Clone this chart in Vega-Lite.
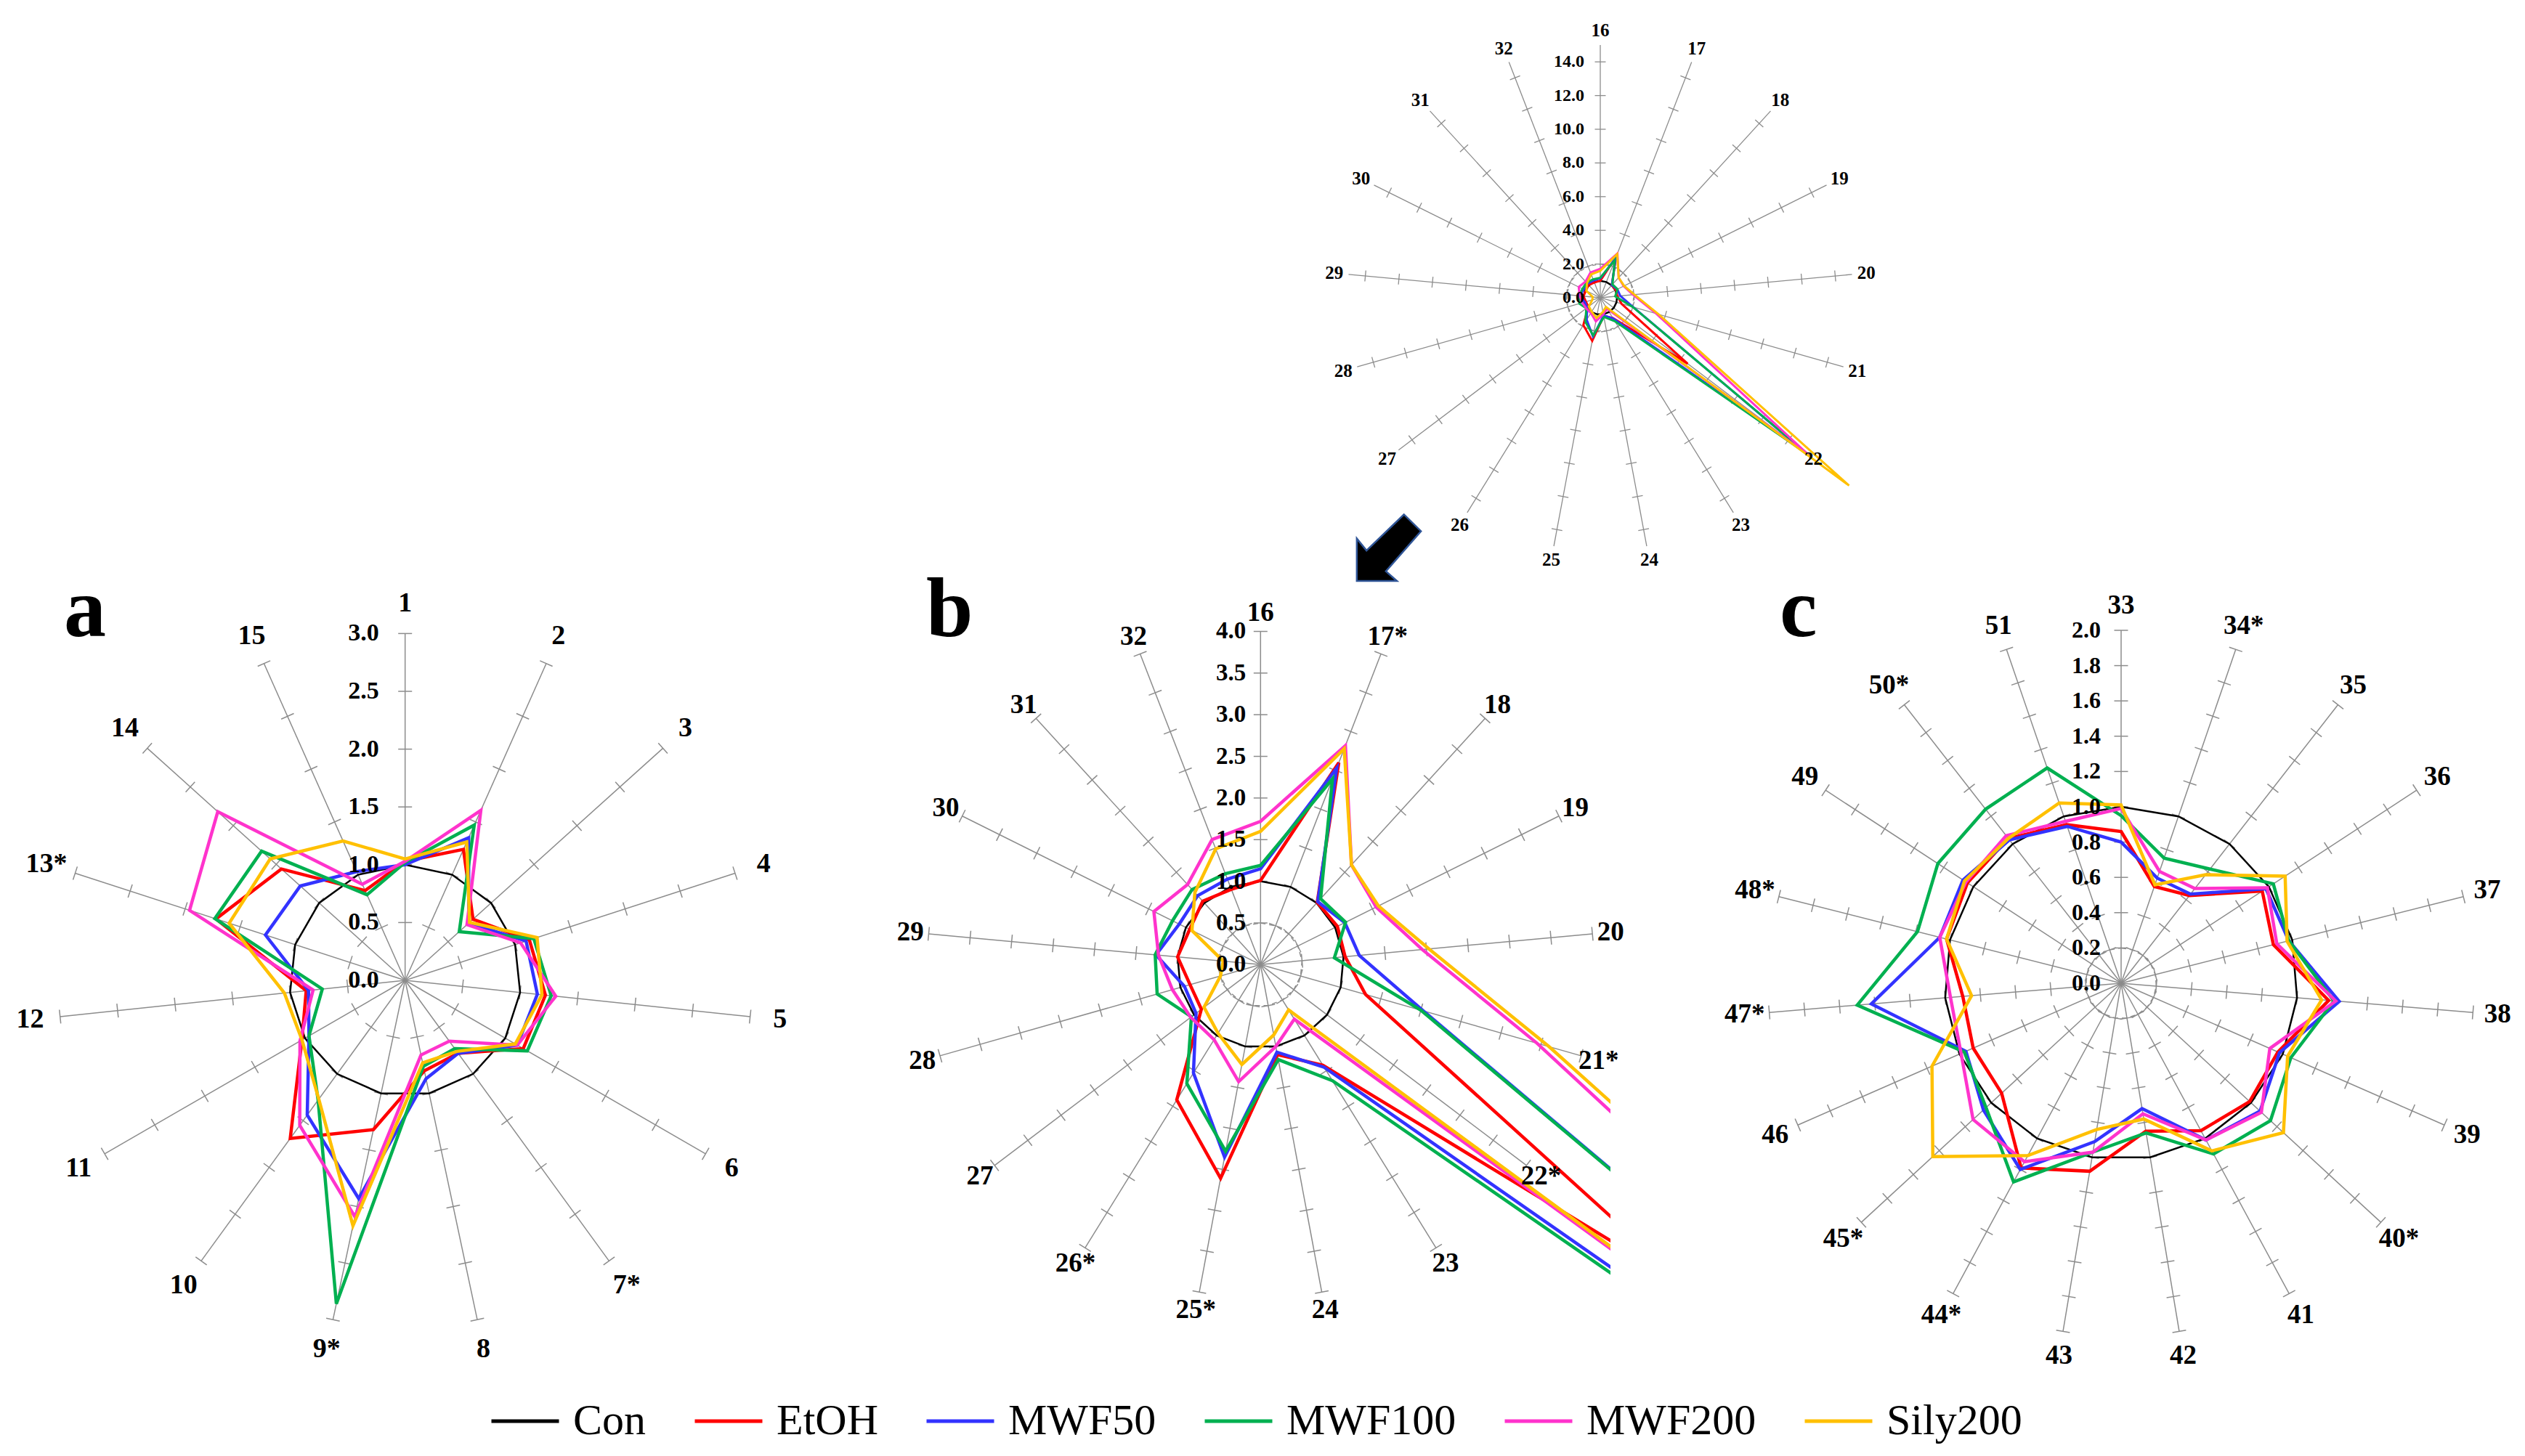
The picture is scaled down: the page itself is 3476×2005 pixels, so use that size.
{
"$schema":"https://vega.github.io/schema/vega-lite/v6.json",
"padding":0,
"background":"white",
"bounds":"flush",
"spacing":0,
"config":{"view":{"stroke":null},"concat":{"spacing":0}},
"resolve":{"scale":{"x":"independent","y":"independent","color":"shared"}},
"datasets":{
"tk":[{"p":"a","t":[0.5,1,1.5,2,2.5,3]},{"p":"b","t":[0.5,1,1.5,2,2.5,3,3.5,4]},{"p":"c","t":[0.2,0.4,0.6,0.8,1,1.2,1.4,1.6,1.8,2]},{"p":"t","t":[2,4,6,8,10,12,14]}],
"tl":[
{"p":"a","v":0,"lab":"0.0"},{"p":"a","v":0.5,"lab":"0.5"},{"p":"a","v":1,"lab":"1.0"},{"p":"a","v":1.5,"lab":"1.5"},{"p":"a","v":2,"lab":"2.0"},{"p":"a","v":2.5,"lab":"2.5"},{"p":"a","v":3,"lab":"3.0"},
{"p":"b","v":0,"lab":"0.0"},{"p":"b","v":0.5,"lab":"0.5"},{"p":"b","v":1,"lab":"1.0"},{"p":"b","v":1.5,"lab":"1.5"},{"p":"b","v":2,"lab":"2.0"},{"p":"b","v":2.5,"lab":"2.5"},{"p":"b","v":3,"lab":"3.0"},{"p":"b","v":3.5,"lab":"3.5"},{"p":"b","v":4,"lab":"4.0"},
{"p":"c","v":0,"lab":"0.0"},{"p":"c","v":0.2,"lab":"0.2"},{"p":"c","v":0.4,"lab":"0.4"},{"p":"c","v":0.6,"lab":"0.6"},{"p":"c","v":0.8,"lab":"0.8"},{"p":"c","v":1,"lab":"1.0"},{"p":"c","v":1.2,"lab":"1.2"},{"p":"c","v":1.4,"lab":"1.4"},{"p":"c","v":1.6,"lab":"1.6"},{"p":"c","v":1.8,"lab":"1.8"},{"p":"c","v":2,"lab":"2.0"},
{"p":"t","v":0,"lab":"0.0"},{"p":"t","v":2,"lab":"2.0"},{"p":"t","v":4,"lab":"4.0"},{"p":"t","v":6,"lab":"6.0"},{"p":"t","v":8,"lab":"8.0"},{"p":"t","v":10,"lab":"10.0"},{"p":"t","v":12,"lab":"12.0"},{"p":"t","v":14,"lab":"14.0"}
],
"spk":[
{"p":"a","k":1,"lab":"1"},{"p":"a","k":2,"lab":"2"},{"p":"a","k":3,"lab":"3"},{"p":"a","k":4,"lab":"4"},{"p":"a","k":5,"lab":"5"},{"p":"a","k":6,"lab":"6"},{"p":"a","k":7,"lab":"7*"},{"p":"a","k":8,"lab":"8"},{"p":"a","k":9,"lab":"9*"},{"p":"a","k":10,"lab":"10"},{"p":"a","k":11,"lab":"11"},{"p":"a","k":12,"lab":"12"},{"p":"a","k":13,"lab":"13*"},{"p":"a","k":14,"lab":"14"},{"p":"a","k":15,"lab":"15"},
{"p":"b","k":16,"lab":"16"},{"p":"b","k":17,"lab":"17*"},{"p":"b","k":18,"lab":"18"},{"p":"b","k":19,"lab":"19"},{"p":"b","k":20,"lab":"20"},{"p":"b","k":21,"lab":"21*"},{"p":"b","k":22,"lab":"22*"},{"p":"b","k":23,"lab":"23"},{"p":"b","k":24,"lab":"24"},{"p":"b","k":25,"lab":"25*"},{"p":"b","k":26,"lab":"26*"},{"p":"b","k":27,"lab":"27"},{"p":"b","k":28,"lab":"28"},{"p":"b","k":29,"lab":"29"},{"p":"b","k":30,"lab":"30"},{"p":"b","k":31,"lab":"31"},{"p":"b","k":32,"lab":"32"},
{"p":"c","k":33,"lab":"33"},{"p":"c","k":34,"lab":"34*"},{"p":"c","k":35,"lab":"35"},{"p":"c","k":36,"lab":"36"},{"p":"c","k":37,"lab":"37"},{"p":"c","k":38,"lab":"38"},{"p":"c","k":39,"lab":"39"},{"p":"c","k":40,"lab":"40*"},{"p":"c","k":41,"lab":"41"},{"p":"c","k":42,"lab":"42"},{"p":"c","k":43,"lab":"43"},{"p":"c","k":44,"lab":"44*"},{"p":"c","k":45,"lab":"45*"},{"p":"c","k":46,"lab":"46"},{"p":"c","k":47,"lab":"47*"},{"p":"c","k":48,"lab":"48*"},{"p":"c","k":49,"lab":"49"},{"p":"c","k":50,"lab":"50*"},{"p":"c","k":51,"lab":"51"}
],
"ser":[
{"p":"a","k":1,"s":"Con","v":1},{"p":"a","k":2,"s":"Con","v":1},{"p":"a","k":3,"s":"Con","v":1},{"p":"a","k":4,"s":"Con","v":1},{"p":"a","k":5,"s":"Con","v":1},{"p":"a","k":6,"s":"Con","v":1},{"p":"a","k":7,"s":"Con","v":1},{"p":"a","k":8,"s":"Con","v":1},{"p":"a","k":9,"s":"Con","v":1},{"p":"a","k":10,"s":"Con","v":1},{"p":"a","k":11,"s":"Con","v":1},{"p":"a","k":12,"s":"Con","v":1},{"p":"a","k":13,"s":"Con","v":1},{"p":"a","k":14,"s":"Con","v":1},{"p":"a","k":15,"s":"Con","v":1},
{"p":"a","k":1,"s":"EtOH","v":1.03},{"p":"a","k":2,"s":"EtOH","v":1.24},{"p":"a","k":3,"s":"EtOH","v":0.79},{"p":"a","k":4,"s":"EtOH","v":1.13},{"p":"a","k":5,"s":"EtOH","v":1.22},{"p":"a","k":6,"s":"EtOH","v":1.18},{"p":"a","k":7,"s":"EtOH","v":0.78},{"p":"a","k":8,"s":"EtOH","v":0.80},{"p":"a","k":9,"s":"EtOH","v":1.32},{"p":"a","k":10,"s":"EtOH","v":1.69},{"p":"a","k":11,"s":"EtOH","v":1.03},{"p":"a","k":12,"s":"EtOH","v":0.86},{"p":"a","k":13,"s":"EtOH","v":1.72},{"p":"a","k":14,"s":"EtOH","v":1.44},{"p":"a","k":15,"s":"EtOH","v":0.85},
{"p":"a","k":1,"s":"MWF50","v":1.00},{"p":"a","k":2,"s":"MWF50","v":1.35},{"p":"a","k":3,"s":"MWF50","v":0.74},{"p":"a","k":4,"s":"MWF50","v":1.10},{"p":"a","k":5,"s":"MWF50","v":1.15},{"p":"a","k":6,"s":"MWF50","v":1.12},{"p":"a","k":7,"s":"MWF50","v":0.78},{"p":"a","k":8,"s":"MWF50","v":0.87},{"p":"a","k":9,"s":"MWF50","v":1.93},{"p":"a","k":10,"s":"MWF50","v":1.44},{"p":"a","k":11,"s":"MWF50","v":0.96},{"p":"a","k":12,"s":"MWF50","v":0.84},{"p":"a","k":13,"s":"MWF50","v":1.27},{"p":"a","k":14,"s":"MWF50","v":1.22},{"p":"a","k":15,"s":"MWF50","v":1.03},
{"p":"a","k":1,"s":"MWF100","v":1.02},{"p":"a","k":2,"s":"MWF100","v":1.47},{"p":"a","k":3,"s":"MWF100","v":0.63},{"p":"a","k":4,"s":"MWF100","v":1.17},{"p":"a","k":5,"s":"MWF100","v":1.27},{"p":"a","k":6,"s":"MWF100","v":1.22},{"p":"a","k":7,"s":"MWF100","v":0.73},{"p":"a","k":8,"s":"MWF100","v":0.76},{"p":"a","k":9,"s":"MWF100","v":2.86},{"p":"a","k":10,"s":"MWF100","v":1.28},{"p":"a","k":11,"s":"MWF100","v":0.96},{"p":"a","k":12,"s":"MWF100","v":0.72},{"p":"a","k":13,"s":"MWF100","v":1.73},{"p":"a","k":14,"s":"MWF100","v":1.67},{"p":"a","k":15,"s":"MWF100","v":0.81},
{"p":"a","k":1,"s":"MWF200","v":1.03},{"p":"a","k":2,"s":"MWF200","v":1.61},{"p":"a","k":3,"s":"MWF200","v":0.72},{"p":"a","k":4,"s":"MWF200","v":1.05},{"p":"a","k":5,"s":"MWF200","v":1.31},{"p":"a","k":6,"s":"MWF200","v":1.12},{"p":"a","k":7,"s":"MWF200","v":0.65},{"p":"a","k":8,"s":"MWF200","v":0.66},{"p":"a","k":9,"s":"MWF200","v":2.09},{"p":"a","k":10,"s":"MWF200","v":1.55},{"p":"a","k":11,"s":"MWF200","v":1.05},{"p":"a","k":12,"s":"MWF200","v":0.80},{"p":"a","k":13,"s":"MWF200","v":1.96},{"p":"a","k":14,"s":"MWF200","v":2.18},{"p":"a","k":15,"s":"MWF200","v":0.91},
{"p":"a","k":1,"s":"Sily200","v":1.05},{"p":"a","k":2,"s":"Sily200","v":1.31},{"p":"a","k":3,"s":"Sily200","v":0.75},{"p":"a","k":4,"s":"Sily200","v":1.20},{"p":"a","k":5,"s":"Sily200","v":1.19},{"p":"a","k":6,"s":"Sily200","v":1.10},{"p":"a","k":7,"s":"Sily200","v":0.76},{"p":"a","k":8,"s":"Sily200","v":0.73},{"p":"a","k":9,"s":"Sily200","v":2.17},{"p":"a","k":10,"s":"Sily200","v":1.27},{"p":"a","k":11,"s":"Sily200","v":1.03},{"p":"a","k":12,"s":"Sily200","v":1.05},{"p":"a","k":13,"s":"Sily200","v":1.60},{"p":"a","k":14,"s":"Sily200","v":1.57},{"p":"a","k":15,"s":"Sily200","v":1.32},
{"p":"b","k":16,"s":"Con","v":1},{"p":"b","k":17,"s":"Con","v":1},{"p":"b","k":18,"s":"Con","v":1},{"p":"b","k":19,"s":"Con","v":1},{"p":"b","k":20,"s":"Con","v":1},{"p":"b","k":21,"s":"Con","v":1},{"p":"b","k":22,"s":"Con","v":1},{"p":"b","k":23,"s":"Con","v":1},{"p":"b","k":24,"s":"Con","v":1},{"p":"b","k":25,"s":"Con","v":1},{"p":"b","k":26,"s":"Con","v":1},{"p":"b","k":27,"s":"Con","v":1},{"p":"b","k":28,"s":"Con","v":1},{"p":"b","k":29,"s":"Con","v":1},{"p":"b","k":30,"s":"Con","v":1},{"p":"b","k":31,"s":"Con","v":1},{"p":"b","k":32,"s":"Con","v":1},
{"p":"b","k":16,"s":"EtOH","v":1.01},{"p":"b","k":17,"s":"EtOH","v":2.60},{"p":"b","k":18,"s":"EtOH","v":1.01},{"p":"b","k":19,"s":"EtOH","v":1.03},{"p":"b","k":20,"s":"EtOH","v":1.02},{"p":"b","k":21,"s":"EtOH","v":1.31},{"p":"b","k":22,"s":"EtOH","v":6.5},{"p":"b","k":23,"s":"EtOH","v":1.42},{"p":"b","k":24,"s":"EtOH","v":1.10},{"p":"b","k":25,"s":"EtOH","v":2.61},{"p":"b","k":26,"s":"EtOH","v":1.91},{"p":"b","k":27,"s":"EtOH","v":0.89},{"p":"b","k":28,"s":"EtOH","v":0.88},{"p":"b","k":29,"s":"EtOH","v":1.00},{"p":"b","k":30,"s":"EtOH","v":0.95},{"p":"b","k":31,"s":"EtOH","v":1.03},{"p":"b","k":32,"s":"EtOH","v":0.97},
{"p":"b","k":16,"s":"MWF50","v":1.15},{"p":"b","k":17,"s":"MWF50","v":2.53},{"p":"b","k":18,"s":"MWF50","v":1.02},{"p":"b","k":19,"s":"MWF50","v":1.13},{"p":"b","k":20,"s":"MWF50","v":1.19},{"p":"b","k":21,"s":"MWF50","v":2.03},{"p":"b","k":22,"s":"MWF50","v":15.3},{"p":"b","k":23,"s":"MWF50","v":1.45},{"p":"b","k":24,"s":"MWF50","v":1.07},{"p":"b","k":25,"s":"MWF50","v":2.35},{"p":"b","k":26,"s":"MWF50","v":1.53},{"p":"b","k":27,"s":"MWF50","v":0.97},{"p":"b","k":28,"s":"MWF50","v":0.95},{"p":"b","k":29,"s":"MWF50","v":1.26},{"p":"b","k":30,"s":"MWF50","v":1.09},{"p":"b","k":31,"s":"MWF50","v":1.12},{"p":"b","k":32,"s":"MWF50","v":1.10},
{"p":"b","k":16,"s":"MWF100","v":1.19},{"p":"b","k":17,"s":"MWF100","v":2.39},{"p":"b","k":18,"s":"MWF100","v":1.07},{"p":"b","k":19,"s":"MWF100","v":1.14},{"p":"b","k":20,"s":"MWF100","v":0.89},{"p":"b","k":21,"s":"MWF100","v":2.00},{"p":"b","k":22,"s":"MWF100","v":15.6},{"p":"b","k":23,"s":"MWF100","v":1.64},{"p":"b","k":24,"s":"MWF100","v":1.16},{"p":"b","k":25,"s":"MWF100","v":2.28},{"p":"b","k":26,"s":"MWF100","v":1.68},{"p":"b","k":27,"s":"MWF100","v":1.04},{"p":"b","k":28,"s":"MWF100","v":1.29},{"p":"b","k":29,"s":"MWF100","v":1.27},{"p":"b","k":30,"s":"MWF100","v":1.18},{"p":"b","k":31,"s":"MWF100","v":1.22},{"p":"b","k":32,"s":"MWF100","v":1.17},
{"p":"b","k":16,"s":"MWF200","v":1.72},{"p":"b","k":17,"s":"MWF200","v":2.82},{"p":"b","k":18,"s":"MWF200","v":1.62},{"p":"b","k":19,"s":"MWF200","v":1.55},{"p":"b","k":20,"s":"MWF200","v":1.95},{"p":"b","k":21,"s":"MWF200","v":3.45},{"p":"b","k":22,"s":"MWF200","v":15.5},{"p":"b","k":23,"s":"MWF200","v":0.77},{"p":"b","k":24,"s":"MWF200","v":1.00},{"p":"b","k":25,"s":"MWF200","v":1.43},{"p":"b","k":26,"s":"MWF200","v":1.06},{"p":"b","k":27,"s":"MWF200","v":1.05},{"p":"b","k":28,"s":"MWF200","v":1.10},{"p":"b","k":29,"s":"MWF200","v":1.23},{"p":"b","k":30,"s":"MWF200","v":1.43},{"p":"b","k":31,"s":"MWF200","v":1.30},{"p":"b","k":32,"s":"MWF200","v":1.61},
{"p":"b","k":16,"s":"Sily200","v":1.60},{"p":"b","k":17,"s":"Sily200","v":2.78},{"p":"b","k":18,"s":"Sily200","v":1.62},{"p":"b","k":19,"s":"Sily200","v":1.58},{"p":"b","k":20,"s":"Sily200","v":2.03},{"p":"b","k":21,"s":"Sily200","v":3.60},{"p":"b","k":22,"s":"Sily200","v":18.5},{"p":"b","k":23,"s":"Sily200","v":0.64},{"p":"b","k":24,"s":"Sily200","v":0.86},{"p":"b","k":25,"s":"Sily200","v":1.22},{"p":"b","k":26,"s":"Sily200","v":0.97},{"p":"b","k":27,"s":"Sily200","v":0.85},{"p":"b","k":28,"s":"Sily200","v":0.50},{"p":"b","k":29,"s":"Sily200","v":0.45},{"p":"b","k":30,"s":"Sily200","v":0.92},{"p":"b","k":31,"s":"Sily200","v":1.17},{"p":"b","k":32,"s":"Sily200","v":1.49},
{"p":"c","k":33,"s":"Con","v":1},{"p":"c","k":34,"s":"Con","v":1},{"p":"c","k":35,"s":"Con","v":1},{"p":"c","k":36,"s":"Con","v":1},{"p":"c","k":37,"s":"Con","v":1},{"p":"c","k":38,"s":"Con","v":1},{"p":"c","k":39,"s":"Con","v":1},{"p":"c","k":40,"s":"Con","v":1},{"p":"c","k":41,"s":"Con","v":1},{"p":"c","k":42,"s":"Con","v":1},{"p":"c","k":43,"s":"Con","v":1},{"p":"c","k":44,"s":"Con","v":1},{"p":"c","k":45,"s":"Con","v":1},{"p":"c","k":46,"s":"Con","v":1},{"p":"c","k":47,"s":"Con","v":1},{"p":"c","k":48,"s":"Con","v":1},{"p":"c","k":49,"s":"Con","v":1},{"p":"c","k":50,"s":"Con","v":1},{"p":"c","k":51,"s":"Con","v":1},
{"p":"c","k":33,"s":"EtOH","v":0.86},{"p":"c","k":34,"s":"EtOH","v":0.58},{"p":"c","k":35,"s":"EtOH","v":0.63},{"p":"c","k":36,"s":"EtOH","v":0.955},{"p":"c","k":37,"s":"EtOH","v":0.89},{"p":"c","k":38,"s":"EtOH","v":1.18},{"p":"c","k":39,"s":"EtOH","v":0.97},{"p":"c","k":40,"s":"EtOH","v":0.99},{"p":"c","k":41,"s":"EtOH","v":0.95},{"p":"c","k":42,"s":"EtOH","v":0.85},{"p":"c","k":43,"s":"EtOH","v":1.08},{"p":"c","k":44,"s":"EtOH","v":1.19},{"p":"c","k":45,"s":"EtOH","v":0.92},{"p":"c","k":46,"s":"EtOH","v":0.915},{"p":"c","k":47,"s":"EtOH","v":0.90},{"p":"c","k":48,"s":"EtOH","v":1.02},{"p":"c","k":49,"s":"EtOH","v":1.04},{"p":"c","k":50,"s":"EtOH","v":1.04},{"p":"c","k":51,"s":"EtOH","v":0.95},
{"p":"c","k":33,"s":"MWF50","v":0.80},{"p":"c","k":34,"s":"MWF50","v":0.63},{"p":"c","k":35,"s":"MWF50","v":0.64},{"p":"c","k":36,"s":"MWF50","v":0.98},{"p":"c","k":37,"s":"MWF50","v":0.98},{"p":"c","k":38,"s":"MWF50","v":1.24},{"p":"c","k":39,"s":"MWF50","v":0.98},{"p":"c","k":40,"s":"MWF50","v":1.07},{"p":"c","k":41,"s":"MWF50","v":1.01},{"p":"c","k":42,"s":"MWF50","v":0.72},{"p":"c","k":43,"s":"MWF50","v":0.91},{"p":"c","k":44,"s":"MWF50","v":1.20},{"p":"c","k":45,"s":"MWF50","v":1.06},{"p":"c","k":46,"s":"MWF50","v":0.96},{"p":"c","k":47,"s":"MWF50","v":1.42},{"p":"c","k":48,"s":"MWF50","v":1.06},{"p":"c","k":49,"s":"MWF50","v":1.07},{"p":"c","k":50,"s":"MWF50","v":1.03},{"p":"c","k":51,"s":"MWF50","v":0.94},
{"p":"c","k":33,"s":"MWF100","v":0.95},{"p":"c","k":34,"s":"MWF100","v":0.75},{"p":"c","k":35,"s":"MWF100","v":0.82},{"p":"c","k":36,"s":"MWF100","v":1.03},{"p":"c","k":37,"s":"MWF100","v":0.98},{"p":"c","k":38,"s":"MWF100","v":1.21},{"p":"c","k":39,"s":"MWF100","v":1.05},{"p":"c","k":40,"s":"MWF100","v":1.15},{"p":"c","k":41,"s":"MWF100","v":1.10},{"p":"c","k":42,"s":"MWF100","v":0.86},{"p":"c","k":43,"s":"MWF100","v":0.97},{"p":"c","k":44,"s":"MWF100","v":1.28},{"p":"c","k":45,"s":"MWF100","v":1.04},{"p":"c","k":46,"s":"MWF100","v":0.97},{"p":"c","k":47,"s":"MWF100","v":1.50},{"p":"c","k":48,"s":"MWF100","v":1.19},{"p":"c","k":49,"s":"MWF100","v":1.24},{"p":"c","k":50,"s":"MWF100","v":1.25},{"p":"c","k":51,"s":"MWF100","v":1.29},
{"p":"c","k":33,"s":"MWF200","v":0.99},{"p":"c","k":34,"s":"MWF200","v":0.67},{"p":"c","k":35,"s":"MWF200","v":0.68},{"p":"c","k":36,"s":"MWF200","v":0.99},{"p":"c","k":37,"s":"MWF200","v":0.91},{"p":"c","k":38,"s":"MWF200","v":1.22},{"p":"c","k":39,"s":"MWF200","v":0.92},{"p":"c","k":40,"s":"MWF200","v":1.08},{"p":"c","k":41,"s":"MWF200","v":1.01},{"p":"c","k":42,"s":"MWF200","v":0.75},{"p":"c","k":43,"s":"MWF200","v":0.97},{"p":"c","k":44,"s":"MWF200","v":1.15},{"p":"c","k":45,"s":"MWF200","v":1.14},{"p":"c","k":46,"s":"MWF200","v":0.99},{"p":"c","k":47,"s":"MWF200","v":0.97},{"p":"c","k":48,"s":"MWF200","v":1.06},{"p":"c","k":49,"s":"MWF200","v":1.05},{"p":"c","k":50,"s":"MWF200","v":1.06},{"p":"c","k":51,"s":"MWF200","v":0.97},
{"p":"c","k":33,"s":"Sily200","v":1.01},{"p":"c","k":34,"s":"Sily200","v":0.59},{"p":"c","k":35,"s":"Sily200","v":0.78},{"p":"c","k":36,"s":"Sily200","v":1.11},{"p":"c","k":37,"s":"Sily200","v":0.97},{"p":"c","k":38,"s":"Sily200","v":1.14},{"p":"c","k":39,"s":"Sily200","v":1.03},{"p":"c","k":40,"s":"Sily200","v":1.25},{"p":"c","k":41,"s":"Sily200","v":1.08},{"p":"c","k":42,"s":"Sily200","v":0.78},{"p":"c","k":43,"s":"Sily200","v":0.84},{"p":"c","k":44,"s":"Sily200","v":1.11},{"p":"c","k":45,"s":"Sily200","v":1.45},{"p":"c","k":46,"s":"Sily200","v":1.17},{"p":"c","k":47,"s":"Sily200","v":0.85},{"p":"c","k":48,"s":"Sily200","v":1.02},{"p":"c","k":49,"s":"Sily200","v":1.06},{"p":"c","k":50,"s":"Sily200","v":1.04},{"p":"c","k":51,"s":"Sily200","v":1.08}
]
},
"vconcat":[
{
"width":3476,"height":800,
"encoding":{"x":{"field":"x","type":"quantitative","scale":{"domain":[-94.957,54.871],"nice":false,"zero":false},"axis":null},"y":{"field":"y","type":"quantitative","scale":{"domain":[-16.810,17.672],"nice":false,"zero":false},"axis":null}},
"layer":[
{"data":{"name":"spk"},"transform":[{"filter":"datum.p==='b'"},{"calculate":"(datum.k-16)*2*PI/17","as":"th"},{"calculate":"15*sin(datum.th)","as":"x"},{"calculate":"15*cos(datum.th)","as":"y"}],
 "mark":{"type":"rule","color":"#8c8c8c","strokeWidth":1.3},"encoding":{"x2":{"datum":0},"y2":{"datum":0}}},
{"data":{"name":"spk"},"transform":[{"filter":"datum.p==='b'"},{"calculate":"'t'","as":"q"},{"lookup":"q","from":{"data":{"name":"tk"},"key":"p","fields":["t"]}},{"flatten":["t"]},{"calculate":"(datum.k-16)*2*PI/17","as":"th"},{"calculate":"datum.t*sin(datum.th)","as":"x"},{"calculate":"datum.t*cos(datum.th)","as":"y"},{"calculate":"datum.th*180/PI","as":"deg"}],
 "mark":{"type":"point","shape":"stroke","size":225,"strokeWidth":1.3,"color":"#8c8c8c","filled":false,"opacity":1},"encoding":{"angle":{"field":"deg","type":"quantitative","scale":null}}},
{"data":{"name":"spk"},"transform":[{"filter":"datum.p==='b'"},{"calculate":"(datum.k-16)*2*PI/17","as":"th"},{"calculate":"2*sin(datum.th)","as":"x"},{"calculate":"2*cos(datum.th)","as":"y"}],
 "mark":{"type":"line","interpolate":"linear-closed","color":"#8c8c8c","strokeWidth":1.3,"strokeDash":[5,4]},"encoding":{"order":{"field":"k","type":"quantitative"}}},
{"data":{"name":"ser"},"transform":[{"filter":"datum.p==='b'"},{"calculate":"(datum.k-16)*2*PI/17","as":"th"},{"calculate":"datum.v*sin(datum.th)","as":"x"},{"calculate":"datum.v*cos(datum.th)","as":"y"}],
 "mark":{"type":"line","interpolate":"linear-closed"},
 "encoding":{"order":{"field":"k","type":"quantitative"},"strokeWidth":{"condition":{"test":"datum.s==='Con'","value":2.5},"value":3},
  "color":{"field":"s","type":"nominal","scale":{"domain":["Con","EtOH","MWF50","MWF100","MWF200","Sily200"],"range":["#000000","#FF0000","#3333FF","#00B050","#FF33CC","#FFC000"]},"legend":{"orient":"none","legendX":674,"legendY":1908,"direction":"horizontal","title":null,"symbolType":"stroke","symbolSize":8649,"symbolStrokeWidth":5,"labelFont":"Liberation Serif","labelFontSize":60,"labelOffset":17,"columnPadding":56,"padding":0,"labelColor":"#000000","labelLimit":0}}}},
{"data":{"name":"tl"},"transform":[{"filter":"datum.p==='t'"},{"calculate":"-0.95","as":"x"},{"calculate":"datum.v","as":"y"}],
 "mark":{"type":"text","align":"right","baseline":"middle","font":"Liberation Serif","fontWeight":"bold","fontSize":24,"color":"#000000"},"encoding":{"text":{"field":"lab"}}},
{"data":{"name":"spk"},"transform":[{"filter":"datum.p==='b'"},{"calculate":"(datum.k-16)*2*PI/17","as":"th"},{"calculate":"15.85*sin(datum.th)","as":"x"},{"calculate":"15.85*cos(datum.th)","as":"y"},{"calculate":"replace(datum.lab,'*','')","as":"lt"}],
 "mark":{"type":"text","align":"center","baseline":"middle","font":"Liberation Serif","fontWeight":"bold","fontSize":25,"color":"#000000"},"encoding":{"text":{"field":"lt"}}},
{"data":{"values":[{"note":"arrow"}]},"transform":[{"calculate":"-12.543","as":"x"},{"calculate":"-14.828","as":"y"}],
 "mark":{"type":"point","shape":"M-0.96,1L-0.96,-0.27L-0.67,0.09L0.45,-0.99L0.96,-0.49L-0.09,0.71L0.24,1Z","size":8464,"filled":true,"fill":"#000000","stroke":"#2f5597","strokeWidth":2.5,"opacity":1}}
]
},
{
"hconcat":[
{
"width":1150,"height":1205,
"encoding":{"x":{"field":"x","type":"quantitative","scale":{"domain":[-3.5031,3.7205],"nice":false,"zero":false},"axis":null},"y":{"field":"y","type":"quantitative","scale":{"domain":[-4.1143,3.4548],"nice":false,"zero":false},"axis":null}},
"layer":[
{"data":{"name":"spk"},"transform":[{"filter":"datum.p==='a'"},{"calculate":"(datum.k-1)*2*PI/15","as":"th"},{"calculate":"3*sin(datum.th)","as":"x"},{"calculate":"3*cos(datum.th)","as":"y"}],
 "mark":{"type":"rule","color":"#8c8c8c","strokeWidth":1.5},"encoding":{"x2":{"datum":0},"y2":{"datum":0}}},
{"data":{"name":"spk"},"transform":[{"filter":"datum.p==='a'"},{"lookup":"p","from":{"data":{"name":"tk"},"key":"p","fields":["t"]}},{"flatten":["t"]},{"calculate":"(datum.k-1)*2*PI/15","as":"th"},{"calculate":"datum.t*sin(datum.th)","as":"x"},{"calculate":"datum.t*cos(datum.th)","as":"y"},{"calculate":"datum.th*180/PI","as":"deg"}],
 "mark":{"type":"point","shape":"stroke","size":361,"strokeWidth":1.5,"color":"#8c8c8c","filled":false,"opacity":1},"encoding":{"angle":{"field":"deg","type":"quantitative","scale":null}}},
{"data":{"name":"ser"},"transform":[{"filter":"datum.p==='a'"},{"calculate":"(datum.k-1)*2*PI/15","as":"th"},{"calculate":"datum.v*sin(datum.th)","as":"x"},{"calculate":"datum.v*cos(datum.th)","as":"y"}],
 "mark":{"type":"line","interpolate":"linear-closed"},
 "encoding":{"order":{"field":"k","type":"quantitative"},"strokeWidth":{"condition":{"test":"datum.s==='Con'","value":2.5},"value":4.5},
  "color":{"field":"s","type":"nominal","scale":{"domain":["Con","EtOH","MWF50","MWF100","MWF200","Sily200"],"range":["#000000","#FF0000","#3333FF","#00B050","#FF33CC","#FFC000"]},"legend":{"orient":"none","legendX":674,"legendY":1908,"direction":"horizontal","title":null,"symbolType":"stroke","symbolSize":8649,"symbolStrokeWidth":5,"labelFont":"Liberation Serif","labelFontSize":60,"labelOffset":17,"columnPadding":56,"padding":0,"labelColor":"#000000","labelLimit":0}}}},
{"data":{"name":"tl"},"transform":[{"filter":"datum.p==='a'"},{"calculate":"-0.226","as":"x"},{"calculate":"datum.v","as":"y"}],
 "mark":{"type":"text","align":"right","baseline":"middle","font":"Liberation Serif","fontWeight":"bold","fontSize":34,"color":"#000000"},"encoding":{"text":{"field":"lab"}}},
{"data":{"name":"spk"},"transform":[{"filter":"datum.p==='a'"},{"calculate":"(datum.k-1)*2*PI/15","as":"th"},{"calculate":"3.26*sin(datum.th)","as":"x"},{"calculate":"3.26*cos(datum.th)","as":"y"}],
 "mark":{"type":"text","align":"center","baseline":"middle","font":"Liberation Serif","fontWeight":"bold","fontSize":38,"color":"#000000"},"encoding":{"text":{"field":"lab"}}},
{"data":{"values":[{"lab":"a"}]},"transform":[{"calculate":"-2.95","as":"x"},{"calculate":"2.977","as":"y"}],
 "mark":{"type":"text","align":"left","baseline":"alphabetic","font":"Liberation Serif","fontWeight":"bold","fontSize":116,"color":"#000000"},
 "encoding":{"text":{"field":"lab"}}}
]
},
{
"width":1067,"height":1000,
"encoding":{"x":{"field":"x","type":"quantitative","scale":{"domain":[-5.1029,4.1996],"nice":false,"zero":false},"axis":null},"y":{"field":"y","type":"quantitative","scale":{"domain":[-4.1125,4.6059],"nice":false,"zero":false},"axis":null}},
"layer":[
{"data":{"name":"spk"},"transform":[{"filter":"datum.p==='b'"},{"calculate":"(datum.k-16)*2*PI/17","as":"th"},{"calculate":"4*sin(datum.th)","as":"x"},{"calculate":"4*cos(datum.th)","as":"y"}],
 "mark":{"type":"rule","color":"#8c8c8c","strokeWidth":1.5},"encoding":{"x2":{"datum":0},"y2":{"datum":0}}},
{"data":{"name":"spk"},"transform":[{"filter":"datum.p==='b'"},{"lookup":"p","from":{"data":{"name":"tk"},"key":"p","fields":["t"]}},{"flatten":["t"]},{"calculate":"(datum.k-16)*2*PI/17","as":"th"},{"calculate":"datum.t*sin(datum.th)","as":"x"},{"calculate":"datum.t*cos(datum.th)","as":"y"},{"calculate":"datum.th*180/PI","as":"deg"}],
 "mark":{"type":"point","shape":"stroke","size":361,"strokeWidth":1.5,"color":"#8c8c8c","filled":false,"opacity":1},"encoding":{"angle":{"field":"deg","type":"quantitative","scale":null}}},
{"data":{"name":"spk"},"transform":[{"filter":"datum.p==='b'"},{"calculate":"(datum.k-16)*2*PI/17","as":"th"},{"calculate":"0.5*sin(datum.th)","as":"x"},{"calculate":"0.5*cos(datum.th)","as":"y"}],
 "mark":{"type":"line","interpolate":"linear-closed","color":"#8c8c8c","strokeWidth":1.5,"strokeDash":[7,5]},"encoding":{"order":{"field":"k","type":"quantitative"}}},
{"data":{"name":"ser"},"transform":[{"filter":"datum.p==='b'"},{"calculate":"(datum.k-16)*2*PI/17","as":"th"},{"calculate":"datum.v*sin(datum.th)","as":"x"},{"calculate":"datum.v*cos(datum.th)","as":"y"}],
 "mark":{"type":"line","interpolate":"linear-closed","clip":true},
 "encoding":{"order":{"field":"k","type":"quantitative"},"strokeWidth":{"condition":{"test":"datum.s==='Con'","value":2.5},"value":4.5},
  "color":{"field":"s","type":"nominal","scale":{"domain":["Con","EtOH","MWF50","MWF100","MWF200","Sily200"],"range":["#000000","#FF0000","#3333FF","#00B050","#FF33CC","#FFC000"]},"legend":{"orient":"none","legendX":674,"legendY":1908,"direction":"horizontal","title":null,"symbolType":"stroke","symbolSize":8649,"symbolStrokeWidth":5,"labelFont":"Liberation Serif","labelFontSize":60,"labelOffset":17,"columnPadding":56,"padding":0,"labelColor":"#000000","labelLimit":0}}}},
{"data":{"name":"tl"},"transform":[{"filter":"datum.p==='b'"},{"calculate":"-0.174","as":"x"},{"calculate":"datum.v","as":"y"}],
 "mark":{"type":"text","align":"right","baseline":"middle","font":"Liberation Serif","fontWeight":"bold","fontSize":33,"color":"#000000"},"encoding":{"text":{"field":"lab"}}},
{"data":{"name":"spk"},"transform":[{"filter":"datum.p==='b'"},{"calculate":"(datum.k-16)*2*PI/17","as":"th"},{"calculate":"4.22*sin(datum.th)","as":"x"},{"calculate":"4.22*cos(datum.th)","as":"y"}],
 "mark":{"type":"text","align":"center","baseline":"middle","font":"Liberation Serif","fontWeight":"bold","fontSize":37,"color":"#000000"},"encoding":{"text":{"field":"lab"}}},
{"data":{"values":[{"lab":"b"}]},"transform":[{"calculate":"-4.013","as":"x"},{"calculate":"3.943","as":"y"}],
 "mark":{"type":"text","align":"left","baseline":"alphabetic","font":"Liberation Serif","fontWeight":"bold","fontSize":116,"color":"#000000"},
 "encoding":{"text":{"field":"lab"}}}
]
},
{
"width":1259,"height":1205,
"encoding":{"x":{"field":"x","type":"quantitative","scale":{"domain":[-2.8930,2.2881],"nice":false,"zero":false},"axis":null},"y":{"field":"y","type":"quantitative","scale":{"domain":[-2.6790,2.2798],"nice":false,"zero":false},"axis":null}},
"layer":[
{"data":{"name":"spk"},"transform":[{"filter":"datum.p==='c'"},{"calculate":"(datum.k-33)*2*PI/19","as":"th"},{"calculate":"2*sin(datum.th)","as":"x"},{"calculate":"2*cos(datum.th)","as":"y"}],
 "mark":{"type":"rule","color":"#8c8c8c","strokeWidth":1.5},"encoding":{"x2":{"datum":0},"y2":{"datum":0}}},
{"data":{"name":"spk"},"transform":[{"filter":"datum.p==='c'"},{"lookup":"p","from":{"data":{"name":"tk"},"key":"p","fields":["t"]}},{"flatten":["t"]},{"calculate":"(datum.k-33)*2*PI/19","as":"th"},{"calculate":"datum.t*sin(datum.th)","as":"x"},{"calculate":"datum.t*cos(datum.th)","as":"y"},{"calculate":"datum.th*180/PI","as":"deg"}],
 "mark":{"type":"point","shape":"stroke","size":361,"strokeWidth":1.5,"color":"#8c8c8c","filled":false,"opacity":1},"encoding":{"angle":{"field":"deg","type":"quantitative","scale":null}}},
{"data":{"name":"spk"},"transform":[{"filter":"datum.p==='c'"},{"calculate":"(datum.k-33)*2*PI/19","as":"th"},{"calculate":"0.2*sin(datum.th)","as":"x"},{"calculate":"0.2*cos(datum.th)","as":"y"}],
 "mark":{"type":"line","interpolate":"linear-closed","color":"#8c8c8c","strokeWidth":1.5,"strokeDash":[7,5]},"encoding":{"order":{"field":"k","type":"quantitative"}}},
{"data":{"name":"ser"},"transform":[{"filter":"datum.p==='c'"},{"calculate":"(datum.k-33)*2*PI/19","as":"th"},{"calculate":"datum.v*sin(datum.th)","as":"x"},{"calculate":"datum.v*cos(datum.th)","as":"y"}],
 "mark":{"type":"line","interpolate":"linear-closed"},
 "encoding":{"order":{"field":"k","type":"quantitative"},"strokeWidth":{"condition":{"test":"datum.s==='Con'","value":2.5},"value":4.5},
  "color":{"field":"s","type":"nominal","scale":{"domain":["Con","EtOH","MWF50","MWF100","MWF200","Sily200"],"range":["#000000","#FF0000","#3333FF","#00B050","#FF33CC","#FFC000"]},"legend":{"orient":"none","legendX":674,"legendY":1908,"direction":"horizontal","title":null,"symbolType":"stroke","symbolSize":8649,"symbolStrokeWidth":5,"labelFont":"Liberation Serif","labelFontSize":60,"labelOffset":17,"columnPadding":56,"padding":0,"labelColor":"#000000","labelLimit":0}}}},
{"data":{"name":"tl"},"transform":[{"filter":"datum.p==='c'"},{"calculate":"-0.115","as":"x"},{"calculate":"datum.v","as":"y"}],
 "mark":{"type":"text","align":"right","baseline":"middle","font":"Liberation Serif","fontWeight":"bold","fontSize":32,"color":"#000000"},"encoding":{"text":{"field":"lab"}}},
{"data":{"name":"spk"},"transform":[{"filter":"datum.p==='c'"},{"calculate":"(datum.k-33)*2*PI/19","as":"th"},{"calculate":"2.14*sin(datum.th)","as":"x"},{"calculate":"2.14*cos(datum.th)","as":"y"}],
 "mark":{"type":"text","align":"center","baseline":"middle","font":"Liberation Serif","fontWeight":"bold","fontSize":37,"color":"#000000"},"encoding":{"text":{"field":"lab"}}},
{"data":{"values":[{"lab":"c"}]},"transform":[{"calculate":"-1.934","as":"x"},{"calculate":"1.967","as":"y"}],
 "mark":{"type":"text","align":"left","baseline":"alphabetic","font":"Liberation Serif","fontWeight":"bold","fontSize":116,"color":"#000000"},
 "encoding":{"text":{"field":"lab"}}}
]
}
],
"spacing":0,
"bounds":"flush",
"resolve":{"scale":{"x":"independent","y":"independent","color":"shared"}}
}
]
}
